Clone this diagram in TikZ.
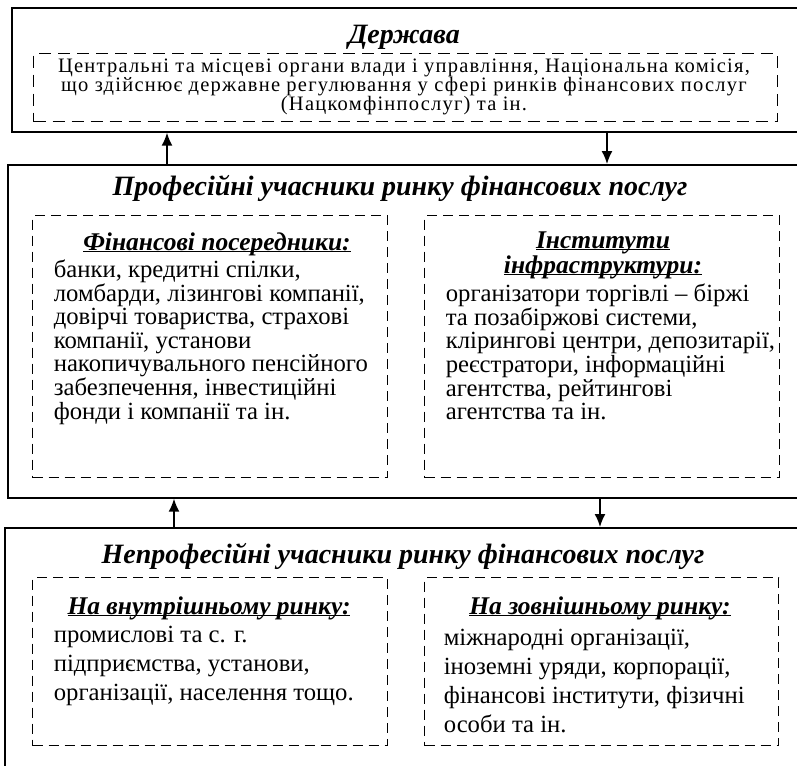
\documentclass[tikz,border=0pt]{standalone}
\usepackage{fontspec}
\setmainfont{Liberation Serif}
\newfontfamily\topfont[LetterSpace=6]{Liberation Serif}
\newcommand{\headline}[1]{\underline{\smash{#1}}}
\usetikzlibrary{arrows.meta}
\tikzset{
    box_node/.style = {rectangle, draw=black, line width=1.7pt, inner sep=0pt, anchor=north west},
    dash_node/.style = {rectangle, draw=black, line width=1.1pt, dash pattern=on 10pt off 6pt, inner sep=0pt, anchor=north west},
    title_node/.style = {inner sep=0pt, font=\fontsize{28}{32}\selectfont\bfseries\itshape},
    head_node/.style = {inner sep=0pt, anchor=base, font=\fontsize{25.5}{27}\selectfont\bfseries\itshape},
    body_node/.style = {inner sep=0pt, align=left, anchor=west, font=\fontsize{24.7}{23.6}\selectfont},
    low_node/.style = {body_node, font=\fontsize{24.7}{29}\selectfont}
}

\begin{document}
\begin{tikzpicture}
    [x=1pt, y=-1pt, ->, >={Latex[length=13pt,width=11pt]}, line width=1.6pt]

    \useasboundingbox (0,0) rectangle (797,765);

    % outer boxes
    \node [box_node, minimum width=789pt, minimum height=124pt] (gov) at (11,7) {};
    \node [box_node, minimum width=793pt, minimum height=333pt] (prof) at (7,164) {};
    \node [box_node, minimum width=796pt, minimum height=248pt] (nonprof) at (4,527) {};

    % dashed boxes
    \node [dash_node, dash pattern=on 12pt off 7pt, minimum width=744pt, minimum height=68pt] (gov_dash) at (33,53) {};
    \node [dash_node, minimum width=355pt, minimum height=262pt] (fin_dash) at (32,215) {};
    \node [dash_node, minimum width=355pt, minimum height=262pt] (inf_dash) at (424,215) {};
    \node [dash_node, minimum width=355pt, minimum height=168pt] (in_dash) at (32,577) {};
    \node [dash_node, minimum width=354pt, minimum height=168pt] (out_dash) at (424,577) {};

    % texts
    \node [title_node] (gov_title) at (404,37) {Держава};
    \node [inner sep=0pt, align=center, font=\topfont\fontsize{20.5}{19}\selectfont] (gov_text) at (404,87)
        {Центральні та місцеві органи влади і управління, Національна комісія,\\
         що здійснює державне регулювання у сфері ринків фінансових послуг\\
         (Нацкомфінпослуг) та ін.};

    \node [title_node] (prof_title) at (400,188) {Професійні учасники ринку фінансових послуг};
    \node [head_node] (fin_head) at (217,250) {\headline{Фінансові посередники:}};
    \node [body_node] (fin_text) at (53,342)
        {банки, кредитні спілки,\\
         ломбарди, лізингові компанії,\\
         довірчі товариства, страхові\\
         компанії, установи\\
         накопичувального пенсійного\\
         забезпечення, інвестиційні\\
         фонди і компанії та ін.};
    \node [head_node] (inf_head) at (603,248) {\headline{Інститути}};
    \node [head_node] (inf_head_b) at (603,273) {\headline{інфраструктури:}};
    \node [body_node] (inf_text) at (445,352)
        {організатори торгівлі – біржі\\
         та позабіржові системи,\\
         клірингові центри, депозитарії,\\
         реєстратори, інформаційні\\
         агентства, рейтингові\\
         агентства та ін.};

    \node [title_node] (nonprof_title) at (403,556) {Непрофесійні учасники ринку фінансових послуг};
    \node [head_node] (in_head) at (209,614) {\headline{На внутрішньому ринку:}};
    \node [low_node] (in_text) at (53,666)
        {промислові та с. г.\\
         підприємства, установи,\\
         організації, населення тощо.};
    \node [head_node] (out_head) at (600,614) {\headline{На зовнішньому ринку:}};
    \node [low_node] (out_text) at (443,681)
        {міжнародні організації,\\
         іноземні уряди, корпорації,\\
         фінансові інститути, фізичні\\
         особи та ін.};

    % arrows
    \coordinate (up_a) at (167,0);
    \coordinate (down_a) at (607,0);
    \coordinate (up_b) at (174,0);
    \coordinate (down_b) at (600,0);
    \draw (prof.north -| up_a) -- (gov.south -| up_a);
    \draw (gov.south -| down_a) -- (prof.north -| down_a);
    \draw (nonprof.north -| up_b) -- (prof.south -| up_b);
    \draw (prof.south -| down_b) -- (nonprof.north -| down_b);
\end{tikzpicture}
\end{document}
